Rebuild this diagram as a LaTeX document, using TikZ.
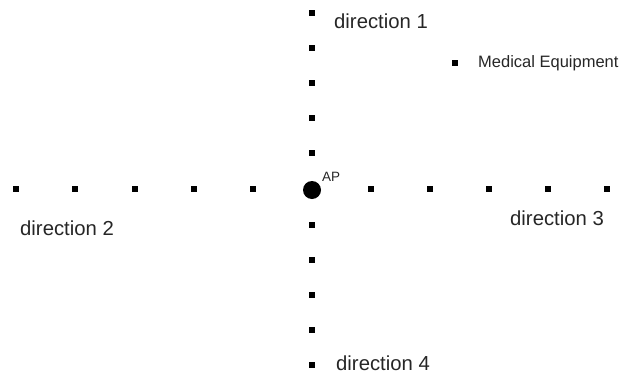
\documentclass[tikz,border=0pt]{standalone}
\usepackage{fontspec}
\setmainfont{Liberation Sans}
\begin{document}
\begin{tikzpicture}[x=1pt,y=-1pt,
  sq/.style={rectangle,fill=black,draw=none,minimum size=5.5pt,inner sep=0pt},
  ap/.style={circle,fill=black,draw=none,minimum size=18pt,inner sep=0pt},
  lbl/.style={inner sep=0pt,font=\fontsize{20.3}{23}\selectfont,text=black!85},
  mlbl/.style={inner sep=0pt,font=\fontsize{16.5}{19}\selectfont,text=black!85},
  slbl/.style={inner sep=0pt,font=\fontsize{13.5}{15}\selectfont,text=black!85}]
\useasboundingbox (0,0) rectangle (621,375);
% vertical line of squares
\foreach \i/\y in {1/13,2/48,3/83,4/118,5/153,6/225,7/260,8/295,9/330,10/365}
  \node[sq] (v\i) at (312,\y) {};
% horizontal line of squares
\foreach \i/\x in {1/16,2/75,3/135,4/194,5/253,6/371,7/430,8/489,9/548,10/607}
  \node[sq] (h\i) at (\x,189) {};
% access point
\node[ap] (apnode) at (312,190) {};
\node[slbl,anchor=south west] (aplabel) at (322,182) {AP};
% medical equipment
\node[sq] (med) at (455,63) {};
\node[mlbl,anchor=west] (medlabel) at (478,63) {Medical Equipment};
% direction labels
\node[lbl,anchor=west] (d1) at (334,21) {direction 1};
\node[lbl,anchor=west] (d2) at (20,228) {direction 2};
\node[lbl,anchor=west] (d3) at (510,218) {direction 3};
\node[lbl,anchor=west] (d4) at (336,363) {direction 4};
\end{tikzpicture}
\end{document}
